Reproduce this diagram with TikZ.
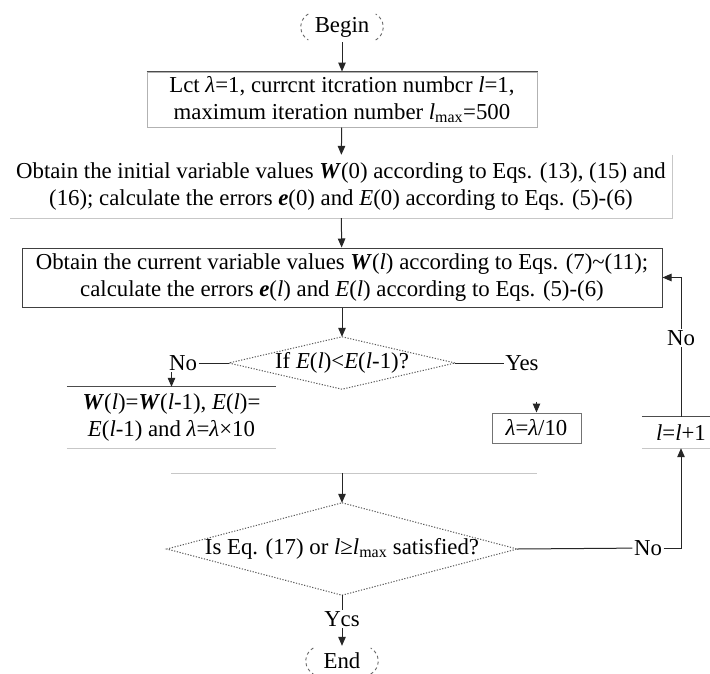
\documentclass[tikz,border=0pt]{standalone}
\usepackage{fontspec}
\setmainfont{Liberation Serif}
\usetikzlibrary{arrows.meta, positioning, calc}

\begin{document}
\begin{tikzpicture}[x=1pt, y=1pt, font=\fontsize{22.8}{27}\selectfont,
    conn/.style={draw=black!85, line width=1pt},
    arr/.style={conn, -{Triangle[length=9pt, width=7.5pt]}},
    faint/.style={draw=black!22, line width=1pt},
    rim/.style={draw=black!70, line width=1pt},
    dots/.style={draw=black!65, line width=1pt, dash pattern=on 1.2pt off 1.6pt},
    paren/.style={draw=black!60, line width=0.9pt, dash pattern=on 3pt off 3pt},
    flowbox/.style={inner sep=0pt, align=center},
    tag/.style={inner sep=1.5pt}]
  \useasboundingbox (0,0) rectangle (710,-673);
  \fill[white] (0,0) rectangle (710,-673);

  % terminals and boxes
  \node[flowbox, minimum width=82pt, minimum height=30pt] (begin) at (342,-27) {Begin};
  \node[flowbox, draw=black!30, line width=1pt, minimum width=390pt, minimum height=55pt] (init) at (342,-99.5) {
    Lct \textit{λ}=1, currcnt itcration numbcr \textit{l}=1,\\
    maximum iteration number \textit{l}\textsubscript{max}=500};
  \node[flowbox, minimum width=662pt, minimum height=63pt] (initvar) at (341,-186.5) {
    Obtain the initial variable values \textbf{\textit{W}}(0) according to Eqs. (13), (15) and\\
    (16); calculate the errors \textbf{\textit{e}}(0) and \textit{E}(0) according to Eqs. (5)-(6)};
  \node[flowbox, draw=black!75, line width=1pt, minimum width=640pt, minimum height=59pt] (update) at (342,-277.5) {
    Obtain the current variable values \textbf{\textit{W}}(\textit{l}) according to Eqs. (7)\textasciitilde(11);\\
    calculate the errors \textbf{\textit{e}}(\textit{l}) and \textit{E}(\textit{l}) according to Eqs. (5)-(6)};
  \node[flowbox, minimum width=226pt, minimum height=52pt] (cmp) at (342,-363) {If \textit{E}(\textit{l})<\textit{E}(\textit{l}-1)?};
  \node[tag] (no1) at (183,-363) {No};
  \node[tag] (yes) at (522,-363) {Yes};
  \node[flowbox, minimum width=209pt, minimum height=61pt] (lower) at (171.5,-417.5) {
    \textbf{\textit{W}}(\textit{l})=\textbf{\textit{W}}(\textit{l}-1), \textit{E}(\textit{l})=\\
    \textit{E}(\textit{l}-1) and \textit{λ}=\textit{λ}×10};
  \node[flowbox, draw=black!55, line width=1pt, minimum width=89pt, minimum height=30pt] (raise) at (536.5,-428) {\textit{λ}=\textit{λ}/10};
  \node[flowbox, minimum width=78pt, minimum height=31pt] (incr) at (681,-432.5) {\textit{l}=\textit{l}+1};
  \node[flowbox, minimum width=350pt, minimum height=92pt] (check) at (342,-549) {Is Eq. (17) or \textit{l}≥\textit{l}\textsubscript{max} satisfied?};
  \node[tag] (no2) at (648,-548) {No};
  \node[tag] (no3) at (681,-338) {No};
  \node[tag] (ycs) at (342,-619) {Ycs};
  \node[flowbox, minimum width=72pt, minimum height=30pt] (stop) at (342,-661) {End};

  \coordinate (raisein) at ($(raise.north)+(0,11)$);
  \coordinate (mergeL) at (171,-473);
  \coordinate (mergeR) at (537,-473);

  % outlines
  \foreach \t in {begin, stop} {
    \draw[paren] ($(\t.west)+(7.5,13)$) arc[start angle=120, end angle=240, radius=15];
    \draw[paren] ($(\t.east)+(-7.5,-13)$) arc[start angle=-60, end angle=60, radius=15];
  }
  \foreach \d in {cmp, check}
    \draw[dots] (\d.north) -- (\d.east) -- (\d.south) -- (\d.west) -- cycle;
  \draw[rim] (init.north west) -- (init.north east);
  \draw[faint] (initvar.north east) -- (initvar.south east) -- (initvar.south west);
  \draw[rim] (lower.north west) -- (lower.north east);
  \draw[faint] (lower.south west) -- (lower.south east);
  \draw[rim] (incr.north west) -- (incr.north east);
  \draw[faint] (incr.south west) -- (incr.south east);
  \draw[faint] (mergeL) -- (mergeR);

  % connectors
  \draw[arr] (begin) -- (init);
  \draw[arr] (init) -- (initvar);
  \draw[arr] (initvar) -- (update);
  \draw[arr] (update) -- (cmp.north);
  \draw[conn] (no1) -- (cmp.west);
  \draw[arr] (lower.north |- no1.south) -- (lower.north);
  \draw[conn] (cmp.east) -- (yes);
  \draw[arr] (raisein) -- (raise.north);
  \draw[arr] (mergeL -| check.north) -- (check.north);
  \draw[conn] (check.east) -- (no2);
  \draw[arr] (no2.east) -| (incr.south);
  \draw[conn] (incr.north) -- (no3);
  \draw[arr] (no3.north) |- (update.east);
  \draw[conn] (check.south) -- (ycs);
  \draw[arr] (ycs) -- (stop.north);
\end{tikzpicture}
\end{document}
